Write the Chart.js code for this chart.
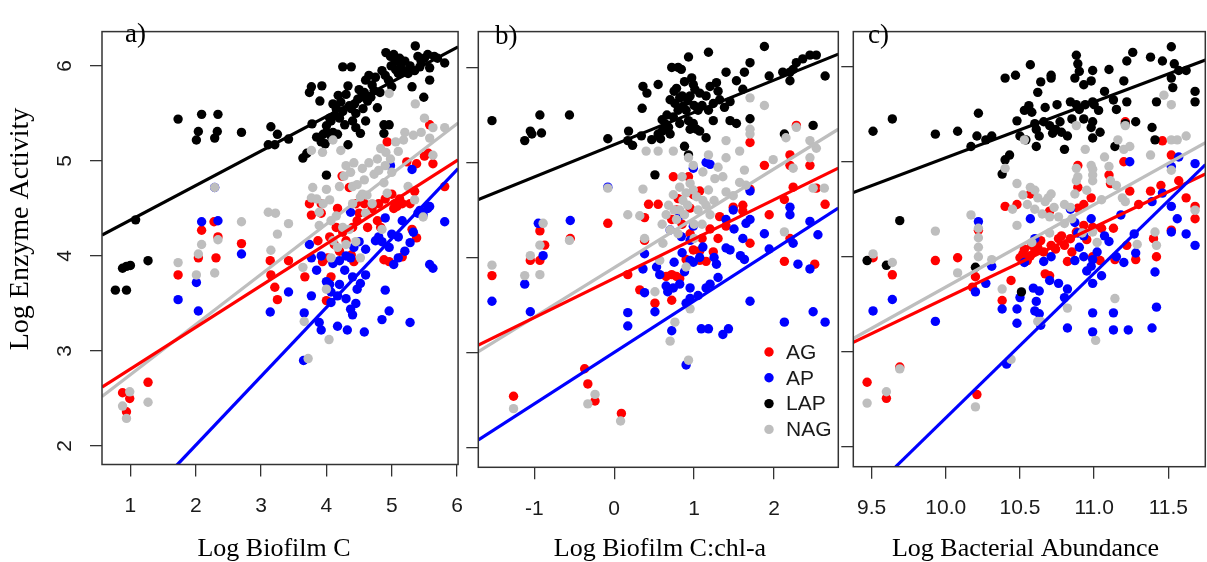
<!DOCTYPE html>
<html>
<head>
<meta charset="UTF-8">
<title>Enzyme activity panels</title>
<script src="https://cdn.jsdelivr.net/npm/chart.js@4.4.0/dist/chart.umd.min.js"></script>
<style>
 html, body { margin: 0; padding: 0; background: #fff; overflow: hidden; }
 #wrap { position: relative; width: 1207px; height: 562px; overflow: hidden; }
 canvas { position: absolute; top: 0; }
</style>
</head>
<body>
<div id="wrap">
  <canvas id="chartA" width="480" height="562" style="left:0px"></canvas>
  <canvas id="chartB" width="410" height="562" style="left:440px"></canvas>
  <canvas id="chartC" width="400" height="562" style="left:810px"></canvas>
</div>
<script>
// series (enzymes) and colours
var seriesNames = ["AG", "AP", "LAP", "NAG"];
var seriesColours = ["#FF0000", "#0000FF", "#000000", "#BEBEBE"];

// axis ticks
var yTicks = [2, 3, 4, 5, 6];
var xTicksA = [1, 2, 3, 4, 5, 6];
var xTicksB = [-1, 0, 1, 2];
var xTicksC = [9.5, 10.0, 10.5, 11.0, 11.5];

// ---- panel a) Log Biofilm C ----
var aAG = [[0.88,2.56],[0.99,2.50],[0.94,2.36],[1.27,2.67],[1.73,3.80],[2.04,3.98],[2.09,4.27],[2.31,3.98],[2.28,4.36],[2.34,4.20],[2.70,4.13],[3.14,3.95],[3.15,3.80],[3.21,3.67],[3.25,3.54],[3.42,3.95],
 [3.67,3.78],[3.74,4.55],[3.77,4.43],[3.92,4.55],[3.92,4.45],[3.87,4.16],[3.94,3.94],[4.02,3.98],[4.07,3.78],[4.0,3.53],[4.17,4.50],[4.24,4.84],[4.30,4.16],[4.38,4.01],[4.42,3.94],[4.35,4.72],
 [4.47,4.37],[4.58,4.55],[4.63,4.30],[4.78,4.37],[4.83,4.30],[4.88,3.96],[4.93,5.20],[4.96,3.94],[5.03,4.50],[5.08,4.52],[5.16,4.55],[5.23,4.99],[5.38,4.97],[5.31,4.28],[5.38,4.19],[5.56,5.08],[5.58,5.38],[5.63,4.97],[5.81,4.73],[5.28,4.55],[5.16,3.99],
 [4.05,4.20],[4.12,4.12],[4.20,4.05],[4.50,4.45],[4.70,4.50],[4.90,4.60],[5.0,4.65],[4.40,4.30],
 [4.45,4.55],[4.55,4.60],[4.80,4.55],[5.05,4.55],[5.12,4.60],[4.25,4.25],[4.15,4.30],[5.50,5.05],[5.35,4.68]];
var aAP = [[1.73,3.54],[2.04,3.42],[2.01,3.72],[2.09,4.36],[2.34,4.37],[2.29,4.72],[2.70,4.02],[3.14,3.41],[3.42,3.62],[3.65,2.90],[3.66,3.40],[3.74,4.12],[3.77,3.98],[3.85,3.85],[3.77,3.58],[3.89,3.30],[3.92,3.22],[3.92,4.00],
 [4.0,3.73],[4.07,3.62],[4.07,3.51],[4.10,3.92],[4.17,3.26],[4.32,3.22],[4.17,3.58],[4.30,3.55],[4.37,3.44],[4.40,3.38],[4.37,3.98],[4.42,4.09],[4.40,3.78],[4.47,3.65],[4.52,3.71],[4.58,3.20],[4.60,4.07],
 [4.75,4.16],[4.80,4.20],[4.85,3.33],[4.90,3.64],[4.96,3.42],[4.90,4.40],[4.96,4.09],[5.0,4.23],[5.03,3.91],[5.10,3.98],[5.16,4.37],[5.28,4.14],[5.33,4.25],[5.28,3.30],[5.43,4.48],[5.58,4.52],[5.48,4.43],[5.58,3.91],[5.63,3.87],[5.81,4.36],[4.98,4.95],[5.31,4.91],[4.37,4.46],
 [4.85,4.15],[4.20,3.95],[4.05,3.70],
 [4.30,4.00],[4.50,4.15],[4.60,3.80],[4.45,3.50],[4.20,3.70],[4.28,3.85],[5.20,4.05],[5.40,4.45],[5.55,4.50],[5.10,4.20]];
var aLAP = [[0.77,3.64],[0.94,3.64],[0.88,3.87],[0.94,3.89],[1.0,3.90],[1.27,3.95],[1.08,4.38],
 [1.73,5.44],[2.09,5.49],[2.34,5.49],[2.04,5.31],[2.01,5.22],[2.33,5.31],[2.29,5.24],[2.70,5.30],
 [3.15,5.36],[3.25,5.28],[3.11,5.17],[3.21,5.17],[3.42,5.23],[3.64,5.03],[3.70,5.08],[4.0,4.85],
 [3.77,5.78],[3.93,5.79],[3.74,5.72],[3.90,5.63],[3.78,5.39],[3.85,5.25],[3.95,5.28],[4.0,5.37],[4.07,5.42],[4.10,5.30],[4.13,5.48],[4.17,5.28],[3.92,5.20],
 [4.18,5.69],[4.33,5.79],[4.38,5.99],[4.25,5.99],[4.33,5.17],[4.40,5.42],[4.52,5.29],[4.60,5.85],[4.68,5.67],[4.73,5.74],[4.78,5.56],[4.88,5.38],[4.96,5.38],[4.88,5.29],
 [4.91,6.14],[4.98,6.10],[5.03,6.12],[4.99,6.0],[5.06,5.96],[5.10,5.92],[5.14,6.0],[5.20,6.05],[5.36,6.21],[5.43,5.99],[5.50,6.08],[5.58,5.98],[5.31,5.78],[5.49,5.67],[5.58,5.85],[5.81,6.03],
 [4.63,5.63],[4.53,5.67],[4.43,5.60],[4.35,5.58],[4.25,5.52],[4.20,5.45],[4.28,5.38],[4.45,5.50],[4.56,5.55],[4.70,5.80],[4.82,5.72],[4.95,5.85],[5.0,5.78],[5.25,5.92],[5.35,5.95],[5.45,6.05],[5.65,6.10],[4.48,5.65],[4.15,5.55],[4.05,5.45],
 [4.10,5.60],[4.22,5.62],[4.30,5.70],[4.38,5.55],[4.50,5.75],[4.58,5.72],[4.65,5.90],[4.75,5.88],[4.85,5.95],[4.90,5.90],[5.05,6.05],[5.12,6.08],[5.18,5.95],[5.28,6.0],[5.40,6.10],[5.55,6.12],[5.70,6.08],[4.0,5.30],[3.98,5.18],[4.08,5.25],[4.45,5.35],[4.60,5.42]];
var aNAG = [[0.94,2.29],[0.88,2.42],[0.99,2.57],[1.27,2.46],[1.73,3.93],[2.01,3.80],[2.04,4.02],[2.09,4.12],[2.29,3.82],[2.29,4.72],[2.34,4.17],[2.70,4.36],
 [3.11,4.46],[3.22,4.45],[3.25,4.23],[3.15,4.06],[3.42,4.34],[3.64,3.88],[3.66,3.31],[3.72,2.92],[3.77,5.11],[3.79,4.72],[3.77,4.61],[3.94,5.09],[3.89,4.46],[3.89,4.32],
 [4.07,4.37],[4.10,4.16],[4.17,4.09],[4.05,4.59],[4.04,3.12],[4.0,3.65],[4.10,5.22],[4.22,5.11],[4.20,4.73],[4.27,4.84],[4.37,4.88],[4.40,4.73],[4.47,4.75],[4.52,4.62],[4.58,4.80],[4.62,4.64],
 [4.35,4.28],[4.45,4.15],[4.30,4.12],[4.52,3.98],[4.73,4.86],[4.78,5.02],[4.83,5.13],[4.91,5.09],[4.98,5.02],[4.96,5.71],[5.06,5.20],[4.88,4.77],[4.93,4.66],[5.0,4.88],
 [5.18,5.22],[5.33,5.27],[5.36,5.60],[5.58,5.24],[5.63,5.35],[5.81,5.35],[5.25,4.73],[5.35,4.59],[5.48,4.41],[5.63,5.06],[4.85,4.28],[4.07,3.98],[4.60,4.45],[4.70,4.55],[4.15,4.42],[4.25,4.30],
 [4.30,4.95],[4.42,4.98],[4.55,4.92],[4.65,4.98],[4.80,4.90],[4.90,4.95],[5.10,5.10],[5.20,5.30],[5.45,5.30],[5.50,5.45],[4.40,4.55],[4.55,4.65],[3.95,4.55],[4.0,4.70],[3.85,4.60]];
// fitted lines, end points
var aFitAG = [[0.5655,2.62],[6.015,5.01]];
var aFitAP = [[1.70,1.79],[6.015,4.92]];
var aFitLAP = [[0.5655,4.22],[6.015,6.20]];
var aFitNAG = [[0.5655,2.52],[6.015,5.40]];

// ---- panel b) Log Biofilm C:chl-a ----
var bAG = [[-1.53,3.81],[-1.26,2.54],[-1.05,3.97],[-0.93,3.97],[-0.93,4.28],[-0.87,4.13],[-0.55,4.20],[-0.37,2.83],[-0.33,2.67],[-0.24,2.49],[-0.08,4.36],[0.09,2.36],[0.17,3.82],[0.32,3.66],
 [0.38,4.42],[0.38,4.18],[0.43,4.56],[0.55,4.56],[0.51,3.52],[0.72,4.40],[0.74,4.85],[0.72,3.55],[0.65,3.80],[0.72,3.82],[0.78,3.80],[0.82,3.78],
 [0.80,4.62],[0.93,4.85],[0.99,4.66],[0.95,4.52],[1.07,4.70],[0.99,4.08],[1.07,3.97],[1.15,3.96],[0.90,3.98],[1.07,4.07],[1.24,4.06],
 [1.32,4.43],[1.40,4.33],[1.49,4.53],[1.61,4.49],[1.70,5.21],[1.70,4.72],[1.61,4.55],[1.70,4.15],[1.88,4.97],[1.94,4.45],[2.13,4.61],[2.20,5.08],[2.20,4.97],[2.24,4.74],[2.28,5.39],[2.13,3.96],[2.45,4.97],[2.51,3.93],[2.53,4.73],[2.64,4.56],[2.20,4.20],
 [0.85,4.35],[0.95,4.25],[1.10,4.20],[1.20,4.30],[0.78,4.50],[1.30,4.20]];
var bAP = [[-1.53,3.54],[-1.12,3.72],[-1.05,3.43],[-0.95,4.36],[-0.89,4.02],[-0.55,4.39],[-0.08,4.74],[0.17,3.42],[0.17,3.28],[0.36,3.88],[0.38,4.04],[0.38,3.63],[0.51,3.43],[0.53,3.90],[0.57,3.82],
 [0.65,3.70],[0.67,3.64],[0.82,3.72],[0.74,3.68],[0.72,3.23],[0.70,4.29],[0.82,4.44],[0.84,4.22],[0.95,4.18],[0.99,4.33],[0.99,4.94],[0.95,3.97],[0.99,3.95],[1.07,4.00],[1.11,4.11],
 [0.95,3.68],[0.95,3.57],[0.90,3.52],[0.90,2.87],[1.15,5.00],[1.20,4.98],[1.09,3.25],[1.18,3.25],[1.15,3.68],[1.28,3.93],[1.30,3.79],[1.36,3.19],[1.43,3.25],
 [1.40,4.40],[1.45,4.08],[1.61,4.20],[1.65,4.36],[1.63,3.98],[1.58,4.02],[1.70,4.40],[1.49,4.50],[1.40,4.10],[1.70,4.70],[1.70,3.54],[1.88,4.25],[1.94,4.09],[2.13,3.32],[2.20,4.53],[2.20,4.45],[2.24,4.15],[2.30,3.93],
 [2.45,4.38],[2.45,3.88],[2.49,3.43],[2.55,4.24],[2.64,3.32],
 [0.75,3.95],[0.88,3.85],[1.20,3.72],[1.05,3.60],[0.85,4.05],[1.25,4.00],[1.50,4.30]];
var bLAP = [[-1.53,5.44],[-1.12,5.23],[-1.05,5.33],[-0.93,5.50],[-0.91,5.31],[-1.03,5.30],[-0.56,5.50],[-0.08,5.25],[0.18,5.33],[0.17,5.23],[0.23,5.18],
 [0.36,5.80],[0.41,5.73],[0.35,5.57],[0.55,5.82],[0.34,5.28],[0.47,5.24],[0.55,5.30],[0.60,5.33],[0.64,5.35],[0.68,5.37],
 [0.72,6.0],[0.80,6.0],[0.84,5.98],[0.93,6.11],[1.18,6.16],[0.97,5.89],[0.99,5.82],[1.01,5.77],[1.07,5.73],
 [0.70,5.66],[0.76,5.62],[0.82,5.68],[0.86,5.59],[0.90,5.55],[0.74,5.48],[0.82,5.41],[0.93,5.44],[0.99,5.41],[1.03,5.35],[0.88,5.17],[0.93,5.08],[0.51,4.87],
 [1.40,5.95],[1.28,5.84],[1.53,5.86],[1.18,5.55],[1.24,5.62],[1.32,5.66],[1.38,5.58],[1.45,5.64],[1.15,5.26],[1.24,5.44],[1.07,5.33],[1.45,5.44],[1.53,5.41],[1.70,5.46],[1.61,5.77],[1.70,6.05],[1.63,5.95],
 [1.88,6.22],[1.94,5.91],[2.13,5.30],[2.20,5.86],[2.24,5.98],[2.28,6.05],[2.36,6.09],[2.45,6.13],[2.53,6.13],[2.49,5.39],[2.64,5.91],[2.20,5.95],[2.11,5.95],
 [0.95,5.70],[1.10,5.60],[0.78,5.78],[0.66,5.50],
 [0.75,5.75],[0.85,5.70],[0.92,5.65],[1.0,5.60],[1.05,5.55],[0.80,5.55],[0.60,5.45],[0.65,5.40],[0.95,5.35],[1.15,5.70],[1.30,5.75],[1.20,5.80],[0.88,5.85],[0.70,5.30],[0.58,5.25]];
var bNAG = [[-1.53,3.92],[-1.26,2.41],[-1.12,3.81],[-1.05,4.02],[-0.93,3.82],[-0.93,4.13],[-0.89,4.36],[-0.56,4.18],[-0.33,2.46],[-0.24,2.56],[-0.08,4.73],[0.08,2.28],[0.17,4.45],[0.36,4.72],[0.32,4.44],
 [0.40,5.12],[0.55,5.12],[0.74,5.12],[0.38,4.20],[0.51,3.64],[0.57,3.97],[0.61,4.15],[0.70,4.29],[0.78,4.40],[0.82,4.50],[0.86,4.60],[0.90,4.68],
 [0.74,4.66],[0.82,4.74],[0.95,4.78],[0.99,4.71],[1.03,4.64],[1.11,4.60],[1.18,4.71],[0.93,5.05],[0.99,4.97],[1.11,4.90],[1.18,5.08],[1.26,4.83],[1.36,4.85],[1.40,4.69],
 [1.40,5.23],[1.40,5.05],[1.57,5.12],[1.63,4.92],[1.70,5.30],[1.70,5.35],[1.70,5.68],[1.88,5.60],[1.49,4.65],[1.57,4.79],[1.65,4.76],[0.70,3.12],[0.76,3.32],[0.93,2.92],[0.95,3.46],[0.90,3.90],
 [2.13,4.27],[2.15,5.26],[2.28,5.37],[2.24,4.94],[2.45,5.23],[2.53,5.15],[2.45,5.05],[2.49,4.73],[2.63,4.73],[1.99,5.03],[1.20,4.45],[1.0,4.35],[0.65,4.45],
 [0.68,4.55],[0.75,4.50],[0.88,4.45],[0.92,4.55],[1.05,4.50],[1.15,4.55],[1.25,4.60],[0.60,4.35],[0.80,4.25],[1.0,4.20],[1.10,4.35],[0.85,4.85],[1.30,4.95]];
var bFitAG = [[-1.70,3.08],[2.805,4.94]];
var bFitAP = [[-1.70,2.08],[2.805,4.52]];
var bFitLAP = [[-1.70,4.61],[2.805,6.14]];
var bFitNAG = [[-1.70,3.01],[2.805,5.35]];

// ---- panel c) Log Bacterial Abundance ----
var cAG = [[9.47,2.68],[9.51,3.99],[9.60,2.51],[9.64,3.81],[9.69,2.84],[9.93,3.96],[10.08,3.99],[10.21,2.55],[10.22,4.28],[10.20,3.79],[10.18,3.68],[10.38,3.54],[10.44,3.75],[10.40,4.53],[10.48,4.55],
 [10.50,3.99],[10.52,4.03],[10.55,3.96],[10.57,4.01],[10.60,4.06],[10.62,4.10],[10.64,4.17],[10.67,3.82],[10.70,3.80],[10.57,4.66],[10.70,4.48],
 [10.71,4.12],[10.76,4.19],[10.80,4.12],[10.84,4.19],[10.82,3.95],[10.88,4.26],[10.93,4.33],[10.89,4.51],[10.93,4.55],[10.98,4.62],[10.89,4.96],[10.89,4.73],[10.99,4.31],[10.99,4.00],[11.04,3.96],
 [11.10,4.86],[11.11,4.77],[11.13,4.30],[11.14,3.97],[11.20,5.00],[11.21,5.42],[11.24,4.69],[11.22,4.12],[11.28,3.97],[11.38,4.69],[11.40,4.19],[11.42,4.00],[11.46,5.22],[11.52,5.07],[11.52,4.28],[11.57,4.80],[11.62,4.62],[11.68,4.53],[11.68,4.40],
 [10.53,4.08],[10.58,4.12],[10.66,4.05],[10.74,4.08],[10.78,4.22],[10.85,4.05],[10.95,4.18],[11.05,4.30],[11.30,4.55],[11.45,4.75]];
var cAP = [[9.51,3.43],[9.64,3.55],[9.93,3.32],[10.22,4.37],[10.20,3.63],[10.27,3.72],[10.31,3.90],[10.38,3.45],[10.48,3.45],[10.48,3.30],[10.41,2.87],
 [10.50,3.57],[10.59,3.67],[10.63,3.64],[10.61,3.53],[10.60,3.43],[10.63,3.40],[10.64,3.28],[10.57,4.40],[10.60,4.19],[10.71,4.00],[10.53,3.94],
 [10.76,3.72],[10.82,3.66],[10.80,3.57],[10.82,3.25],[10.84,4.50],[10.87,4.36],[10.89,4.25],[10.87,3.96],[10.93,4.00],[10.98,4.40],[10.93,4.22],[10.99,3.97],[10.99,3.72],[11.07,4.22],[11.10,4.16],
 [10.98,3.90],[10.99,3.41],[10.99,3.21],[11.13,3.41],[11.13,3.23],[11.23,3.23],[11.18,4.44],[11.20,3.94],[11.27,4.24],[11.28,4.04],[11.24,5.00],
 [11.39,4.58],[11.41,3.84],[11.42,3.47],[11.39,3.25],[11.46,4.67],[11.52,4.95],[11.52,4.53],[11.56,4.40],[11.52,4.26],[11.57,5.05],[11.62,4.24],[11.68,4.12],[11.68,4.98],
 [10.90,4.10],[10.95,3.85],[11.02,4.05],[11.05,3.80],[10.70,3.75],[10.66,3.95],[11.15,4.00]];
var cLAP = [[9.51,5.32],[9.64,5.45],[9.69,4.38],[9.47,3.96],[9.60,3.91],[9.93,5.29],[10.08,5.32],[10.17,5.16],[10.21,5.27],[10.22,5.51],[10.27,5.23],[10.31,5.27],[10.20,3.89],
 [10.40,5.88],[10.47,5.91],[10.57,6.02],[10.38,4.87],[10.40,5.02],[10.43,5.07],
 [10.48,5.43],[10.53,5.54],[10.56,5.59],[10.58,5.52],[10.62,5.73],[10.67,5.57],[10.64,5.84],[10.71,5.88],[10.71,5.91],
 [10.51,3.63],[10.50,5.27],[10.54,5.23],[10.61,5.34],[10.63,5.27],[10.66,5.42],[10.70,5.38],[10.74,5.34],[10.77,5.42],[10.78,5.31],[10.82,5.27],[10.80,5.13],[10.61,5.16],
 [10.88,6.12],[10.89,6.03],[10.87,5.88],[10.90,5.95],[10.93,5.81],[10.98,5.85],[10.99,5.96],[10.84,5.63],[10.88,5.60],[10.94,5.60],[10.99,5.63],
 [10.93,5.45],[10.99,5.42],[11.03,5.54],[11.04,5.31],[10.99,5.25],[10.98,5.36],[11.07,5.74],[11.10,5.97],[11.13,5.65],[11.14,5.16],[11.20,5.85],[11.22,6.06],[11.26,6.15],
 [11.22,5.63],[11.21,5.40],[11.28,5.42],[11.38,6.10],[11.46,6.06],[11.52,6.21],[11.54,6.03],[11.57,5.96],[11.62,5.96],[11.52,5.88],[11.53,5.78],[11.39,5.36],[11.42,5.63],[11.41,5.23],[11.68,5.74],[11.68,5.63],
 [10.60,5.40],[10.72,5.30],[10.85,5.45],[10.90,5.55],[11.0,5.60],[11.15,5.55],[10.75,5.60]];
var cNAG = [[9.47,2.46],[9.51,4.03],[9.60,2.58],[9.64,3.94],[9.69,2.82],[9.93,4.27],[10.08,3.83],[10.17,4.44],[10.20,2.42],[10.22,4.30],[10.22,4.20],[10.22,4.10],[10.22,4.00],[10.31,3.97],[10.38,3.66],[10.40,4.93],[10.44,2.92],
 [10.48,4.77],[10.48,4.33],[10.53,5.23],[10.57,4.73],[10.60,4.70],[10.62,4.62],[10.67,4.58],[10.69,4.62],[10.71,4.66],[10.73,4.52],[10.76,4.42],[10.62,3.32],[10.64,3.32],[10.82,3.46],
 [10.84,4.52],[10.87,4.66],[10.88,4.80],[10.89,4.84],[10.88,4.93],[10.94,5.13],[10.88,5.38],[10.99,4.80],[10.99,4.86],[10.99,4.92],[10.98,4.96],[11.01,3.12],[10.99,4.26],[11.02,4.15],
 [11.07,5.05],[11.10,4.95],[11.11,4.80],[11.14,3.56],[11.16,5.23],[11.21,5.38],[11.20,5.13],[11.21,4.58],[11.24,5.16],[11.19,4.62],[11.29,4.13],[11.38,5.07],[11.41,4.26],[11.42,4.12],
 [11.47,5.70],[11.52,5.60],[11.52,5.23],[11.56,5.23],[11.52,4.91],[11.62,5.27],[11.68,4.49],[10.80,4.35],[10.92,4.25],[10.70,4.25],[10.58,4.15],
 [10.55,4.55],[10.60,4.50],[10.65,4.45],[10.70,4.42],[10.80,4.55],[10.85,4.40],[10.95,4.70],[11.05,4.60],[11.15,4.75],[10.45,4.50],[10.52,4.65]];
var cFitAG = [[9.377,3.10],[11.75,4.87]];
var cFitAP = [[9.662,1.79],[11.75,4.97]];
var cFitLAP = [[9.377,4.675],[11.75,6.07]];
var cFitNAG = [[9.377,3.14],[11.75,5.20]];

var tickFont = { family: "'Liberation Sans', Arial, sans-serif", size: 21 };
var serif = "'Liberation Serif', 'Times New Roman', serif";

// box round the plot area, drawn over the points like R does
var framePlugin = {
  id: 'frame',
  afterDatasetsDraw: function(chart) {
    var a = chart.chartArea, c = chart.ctx;
    c.save();
    c.strokeStyle = '#333';
    c.lineWidth = 1.5;
    c.strokeRect(a.left, a.top, a.right - a.left, a.bottom - a.top);
    c.restore();
  }
};

// panel letter, axis titles and the legend
var textPlugin = {
  id: 'panelText',
  afterDraw: function(chart, args, opts) {
    var c = chart.ctx;
    c.save();
    c.fillStyle = '#000';
    (opts.items || []).forEach(function(t) {
      c.save();
      c.font = t.size + 'px ' + serif;
      c.textAlign = t.align || 'left';
      c.textBaseline = t.baseline || 'alphabetic';
      c.translate(t.x, t.y);
      if (t.rotate) c.rotate(t.rotate);
      c.fillText(t.text, 0, 0);
      c.restore();
    });
    if (opts.legend) {
      var L = opts.legend;
      c.font = tickFont.size + 'px ' + tickFont.family;
      c.textBaseline = 'middle';
      c.textAlign = 'left';
      seriesNames.forEach(function(name, i) {
        var y = L.y + i * L.step;
        c.fillStyle = seriesColours[i];
        c.beginPath();
        c.arc(L.x, y, 4.7, 0, Math.PI * 2);
        c.fill();
        c.fillStyle = '#1a1a1a';
        c.fillText(name, L.x + 17, y + 1);
      });
    }
    c.restore();
  }
};

function makePanel(id, p)
{
  var ctx = document.getElementById(id).getContext('2d');
  var datasets = [];

  // points: AG drawn first, NAG last
  p.points.forEach(function(pts, i) {
    datasets.push({
      label: seriesNames[i],
      data: pts.map(function(d) { return { x: d[0], y: d[1] }; }),
      pointBackgroundColor: seriesColours[i],
      pointBorderWidth: 0,
      pointRadius: 4.7,
      showLine: false,
      order: 10 - i
    });
  });

  // regression lines on top
  var lineOrder = { 2: 4, 3: 3, 0: 2, 1: 1 };
  p.fits.forEach(function(f, i) {
    datasets.push({
      label: seriesNames[i] + ' fit',
      data: f.map(function(d) { return { x: d[0], y: d[1] }; }),
      borderColor: seriesColours[i],
      borderWidth: 3.2,
      pointRadius: 0,
      showLine: true,
      clip: 0,
      order: lineOrder[i]
    });
  });

  var grid = { drawOnChartArea: false, drawTicks: true, tickLength: 12, color: '#333', lineWidth: 1.3 };

  return new Chart(ctx, {
    type: 'scatter',
    data: { datasets: datasets },
    plugins: [framePlugin, textPlugin],
    options: {
      responsive: false,
      animation: false,
      devicePixelRatio: 1,
      events: [],
      layout: { padding: p.padding },
      plugins: {
        legend: { display: false },
        tooltip: { enabled: false },
        panelText: { items: p.texts, legend: p.legend }
      },
      scales: {
        x: {
          type: 'linear',
          min: p.xMin, max: p.xMax,
          afterBuildTicks: function(s) { s.ticks = p.xTicks.map(function(v) { return { value: v }; }); },
          afterFit: function(s) { s.height = p.xHeight; },
          grid: grid,
          border: { display: false },
          ticks: {
            autoSkip: false, maxRotation: 0, padding: 17,
            color: '#1a1a1a', font: tickFont,
            callback: p.xFormat
          }
        },
        y: {
          type: 'linear',
          min: p.yMin, max: p.yMax,
          afterBuildTicks: function(s) { s.ticks = yTicks.map(function(v) { return { value: v }; }); },
          afterFit: function(s) { s.width = p.yWidth; },
          grid: grid,
          border: { display: false },
          ticks: {
            autoSkip: false, minRotation: 90, maxRotation: 90,
            crossAlign: 'center', padding: 19,
            color: '#1a1a1a', font: tickFont,
            callback: function(v) { return p.yLabels ? String(v) : ''; }
          }
        }
      }
    }
  });
}

function init()
{
  makePanel('chartA', {
    points: [aAG, aAP, aLAP, aNAG],
    fits: [aFitAG, aFitAP, aFitLAP, aFitNAG],
    xMin: 0.5655, xMax: 6.015, yMin: 1.805, yMax: 6.361,
    xTicks: xTicksA, xFormat: function(v) { return String(v); },
    yLabels: true,
    padding: { left: 0, top: 10, right: 18, bottom: 0 },
    yWidth: 102, xHeight: 97.5,
    texts: [
      { text: 'a)', x: 125, y: 42, size: 27 },
      { text: 'Log Enzyme Activity', x: 21, y: 229, size: 28, align: 'center', baseline: 'middle', rotate: -Math.PI / 2 },
      { text: 'Log Biofilm C', x: 274, y: 556, size: 26, align: 'center' }
    ]
  });

  makePanel('chartB', {
    points: [bAG, bAP, bLAP, bNAG],
    fits: [bFitAG, bFitAP, bFitLAP, bFitNAG],
    xMin: -1.701, xMax: 2.805, yMin: 1.793, yMax: 6.377,
    xTicks: xTicksB, xFormat: function(v) { return String(v); },
    yLabels: false,
    padding: { left: 0, top: 10.7, right: 11.7, bottom: 0 },
    yWidth: 38.3, xHeight: 94.7,
    texts: [
      { text: 'b)', x: 55, y: 44, size: 27 },
      { text: 'Log Biofilm C:chl-a', x: 220, y: 556, size: 26, align: 'center' }
    ],
    legend: { x: 329, y: 352, step: 25.8 }
  });

  makePanel('chartC', {
    points: [cAG, cAP, cLAP, cNAG],
    fits: [cFitAG, cFitAP, cFitLAP, cFitNAG],
    xMin: 9.377, xMax: 11.749, yMin: 1.791, yMax: 6.369,
    xTicks: xTicksC, xFormat: function(v) { return v.toFixed(1); },
    yLabels: false,
    padding: { left: 0, top: 12.7, right: 1, bottom: 0 },
    yWidth: 43.3, xHeight: 95.3,
    texts: [
      { text: 'c)', x: 58, y: 43, size: 27 },
      { text: 'Log Bacterial Abundance', x: 215.5, y: 556, size: 26, align: 'center' }
    ]
  });
}

window.onload = init;
</script>
</body>
</html>
